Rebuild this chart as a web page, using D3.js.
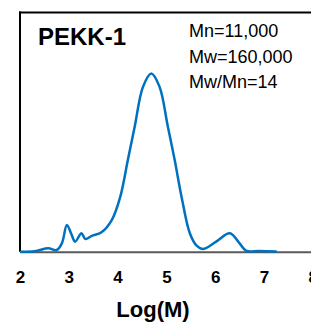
<!DOCTYPE html>
<html>
<head>
<meta charset="utf-8">
<style>
  body { margin: 0; background: #fff; }
  svg { display: block; font-family: "Liberation Sans", Arial, sans-serif; }
</style>
</head>
<body>
<svg id="chart" width="311" height="324"></svg>
<script src="https://cdn.jsdelivr.net/npm/d3@7"></script>
<script>
// curve: log(M) and relative intensity
const logM = [2.00, 2.30, 2.58, 2.75, 2.86, 2.96, 3.05, 3.13, 3.26, 3.34, 3.47, 3.67, 3.88, 4.05, 4.21, 4.35, 4.52, 4.69, 4.86, 5.03, 5.17, 5.31, 5.48, 5.62, 5.75, 6.02, 6.30, 6.50, 6.64, 6.90, 7.26];
const intensity = [0, 0.002, 0.014, 0.007, 0.036, 0.112, 0.075, 0.042, 0.077, 0.053, 0.066, 0.081, 0.132, 0.226, 0.383, 0.522, 0.689, 0.745, 0.689, 0.522, 0.383, 0.23, 0.077, 0.025, 0.011, 0.042, 0.077, 0.035, 0.003, 0.003, 0.001];
const xTicks = [2, 3, 4, 5, 6, 7, 8];
const title = "PEKK-1";
const stats = ["Mn=11,000", "Mw=160,000", "Mw/Mn=14"];

const svg = d3.select("#chart");
const plotLeft = 20, plotTop = 12.5, base = 251.7;

const x = d3.scaleLinear().domain([2, 8]).range([plotLeft, 312.8]);
const y = d3.scaleLinear().domain([0, 1]).range([base, plotTop]);

// frame: left and top in black
svg.append("line").attr("x1", plotLeft).attr("x2", plotLeft).attr("y1", plotTop - 1).attr("y2", base)
  .attr("stroke", "#000").attr("stroke-width", 2);
svg.append("line").attr("x1", plotLeft - 1).attr("x2", 311).attr("y1", plotTop).attr("y2", plotTop)
  .attr("stroke", "#000").attr("stroke-width", 2);

// x axis, gray baseline, no tick marks
const xAxis = d3.axisBottom(x).tickValues(xTicks).tickFormat(d3.format("d"))
  .tickSize(0).tickSizeOuter(0).tickPadding(19.5);
const gx = svg.append("g").attr("transform", `translate(0,${base})`).call(xAxis);
gx.select(".domain").attr("stroke", "#595959").attr("stroke-width", 2);
gx.selectAll("text").attr("font-size", 17).attr("font-weight", "bold")
  .attr("fill", "#000").attr("font-family", "Liberation Sans, Arial, sans-serif");

const pts = logM.map((d, i) => [d, intensity[i]]);
const line = d3.line().x(d => x(d[0])).y(d => y(d[1])).curve(d3.curveCatmullRom.alpha(0.5));
svg.append("path").datum(pts).attr("d", line)
  .attr("fill", "none").attr("stroke", "#0070C0").attr("stroke-width", 2.5);

svg.append("text").attr("x", 38).attr("y", 45).attr("font-size", 24).attr("font-weight", "bold")
  .text(title);

svg.selectAll(".stat").data(stats).enter().append("text")
  .attr("class", "stat")
  .attr("x", 189).attr("y", (d, i) => 36.7 + i * 25.8)
  .attr("font-size", 18).text(d => d);

svg.append("text").attr("x", 153).attr("y", 317).attr("text-anchor", "middle")
  .attr("font-size", 22).attr("font-weight", "bold").text("Log(M)");
</script>
</body>
</html>
